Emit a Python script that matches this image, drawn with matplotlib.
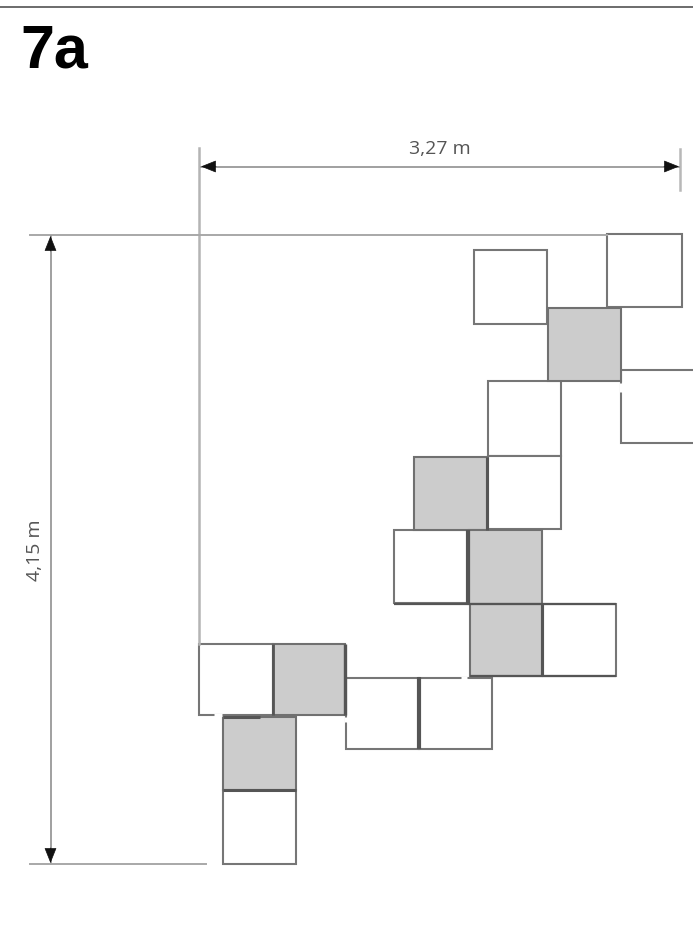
import matplotlib.pyplot as plt
from matplotlib.patches import Rectangle

# plan squares in pixels (left, top, right, bottom)
white_left = [607, 474, 621, 488, 488, 394, 543, 346, 419, 199, 223]
white_top = [234, 250, 370, 381, 456, 530, 604, 678, 678, 644, 790]
white_right = [682, 547, 696, 561, 561, 468, 616, 419, 492, 273, 296]
white_bottom = [307, 324, 443, 456, 529, 603, 676, 749, 749, 715, 864]

gray_left = [548, 414, 469, 470, 273, 223]
gray_top = [308, 457, 530, 604, 644, 717]
gray_right = [621, 487, 542, 542, 345, 296]
gray_bottom = [381, 530, 604, 676, 715, 790]

# pen strokes that came out heavier in the sketch (x0, y0, x1, y1)
heavy_x0 = [345, 468, 542, 419, 487, 223, 273, 223, 394, 470]
heavy_y0 = [644, 530, 604, 677, 457, 790, 644, 717, 604, 676]
heavy_x1 = [345, 468, 542, 419, 487, 296, 273, 260, 616, 616]
heavy_y1 = [715, 603, 676, 749, 530, 790, 715, 717, 604, 676]
heavy_lw = [2.4, 3.0, 2.2, 3.0, 2.2, 2.2, 2.0, 2.2, 1.6, 1.6]

# places where the pen lifted
gap_x0 = [621, 346, 214, 461]
gap_y0 = [383, 717, 715, 678]
gap_x1 = [621, 346, 222, 467]
gap_y1 = [392, 722, 715, 678]

width_label = "3,27 m"
height_label = "4,15 m"
panel_label = "7a"

fig = plt.figure(figsize=(6.93, 9.31), dpi=100)
ax = fig.add_axes([0, 0, 1, 1])
ax.set_xlim(0, 693)
ax.set_ylim(931, 0)
ax.axis("off")

# rule on top
ax.plot([0, 693], [6.5, 6.5], color="#444444", lw=1.1)
ax.text(20, 67, panel_label, fontsize=44, fontweight="bold", family="Liberation Sans",
        color="black", ha="left", va="baseline")

# dimension lines
line_gray = "#a8a8a8"
ax.plot([199, 199], [148, 644], color="#b4b4b4", lw=1.8)
ax.plot([680, 680], [149, 190], color="#b8b8b8", lw=1.8)
ax.plot([201, 679], [166.5, 166.5], color="#999999", lw=1.3)
ax.plot([30, 607], [235, 235], color=line_gray, lw=1.4)
ax.plot([50.5, 50.5], [236, 864], color="#999999", lw=1.3)
ax.plot([30, 206], [864, 864], color=line_gray, lw=1.4)

arrow = dict(arrowstyle="-|>,head_length=0.75,head_width=0.3", color="#111111",
             mutation_scale=13, shrinkA=0, shrinkB=0, lw=0.5)
ax.annotate("", xy=(201, 166.5), xytext=(216, 166.5), arrowprops=arrow)
ax.annotate("", xy=(679, 166.5), xytext=(664, 166.5), arrowprops=arrow)
ax.annotate("", xy=(50.5, 236), xytext=(50.5, 251), arrowprops=arrow)
ax.annotate("", xy=(50.5, 863), xytext=(50.5, 848), arrowprops=arrow)

ax.text(440, 149, width_label, fontsize=14, family="Open Sans", color="#555555",
        ha="center", va="center")
ax.text(35, 550, height_label, fontsize=14, family="Open Sans", color="#555555",
        ha="center", va="center", rotation=90)

for l, t, r, b in zip(white_left, white_top, white_right, white_bottom):
    ax.add_patch(Rectangle((l, t), r - l, b - t, facecolor="white", edgecolor="#767676", lw=1.5))
for l, t, r, b in zip(gray_left, gray_top, gray_right, gray_bottom):
    ax.add_patch(Rectangle((l, t), r - l, b - t, facecolor="#cccccc", edgecolor="#707070", lw=1.5))

for x0, y0, x1, y1, w in zip(heavy_x0, heavy_y0, heavy_x1, heavy_y1, heavy_lw):
    ax.plot([x0, x1], [y0, y1], color="#555555", lw=w, solid_capstyle="butt")
for x0, y0, x1, y1 in zip(gap_x0, gap_y0, gap_x1, gap_y1):
    ax.plot([x0, x1], [y0, y1], color="white", lw=2.2, solid_capstyle="butt")

fig.savefig("out.png", dpi=100)
